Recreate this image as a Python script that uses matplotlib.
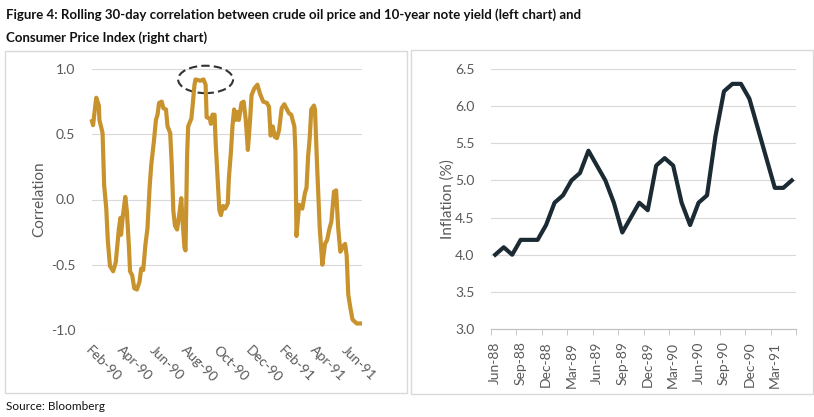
import matplotlib
matplotlib.use('Agg')
import matplotlib.pyplot as plt
import matplotlib.dates as mdates
from matplotlib.patches import Ellipse, Rectangle
import pandas as pd

# left chart: rolling 30-day correlation (days after 1 Feb 1990, value)
corr_days = [0, 2, 8, 13, 14, 20, 23, 27, 30, 34, 40, 45, 51, 54, 55, 58, 63, 66, 70, 72,
             76, 80, 85, 90, 93, 97, 101, 105, 109, 112, 117, 121, 124, 127, 132, 135, 140, 143, 148, 151,
             154, 157, 161, 165, 169, 171, 175, 177, 180, 182, 188, 190, 194, 196, 205, 211, 215, 217, 223, 225,
             228, 232, 234, 238, 241, 244, 248, 252, 257, 259, 263, 266, 269, 272, 275, 278, 283, 287, 291, 295,
             299, 302, 307, 313, 318, 324, 331, 335, 338, 342, 346, 350, 354, 359, 364, 369, 373, 377, 383, 385,
             387, 392, 398, 403, 406, 409, 412, 415, 420, 422, 426, 431, 436, 441, 445, 449, 453, 458, 462, 466,
             470, 475, 479, 482, 485, 489, 493, 501, 507]
corr_vals = [0.60, 0.57, 0.78, 0.72, 0.61, 0.51, 0.11, -0.07, -0.32, -0.51, -0.55, -0.48, -0.22, -0.14, -0.27, -0.14, 0.02, -0.09, -0.37, -0.55,
             -0.58, -0.68, -0.69, -0.63, -0.53, -0.54, -0.35, -0.22, 0.09, 0.26, 0.44, 0.61, 0.65, 0.74, 0.75, 0.70, 0.69, 0.56, 0.51, 0.26,
             -0.09, -0.20, -0.23, -0.12, 0.01, -0.14, -0.37, -0.39, 0.34, 0.56, 0.62, 0.70, 0.88, 0.92, 0.91, 0.92, 0.88, 0.63, 0.62, 0.58,
             0.65, 0.65, 0.44, 0.14, -0.08, -0.12, -0.05, -0.07, -0.03, 0.16, 0.37, 0.57, 0.69, 0.61, 0.67, 0.61, 0.74, 0.75, 0.61, 0.38,
             0.60, 0.80, 0.85, 0.88, 0.81, 0.75, 0.74, 0.71, 0.49, 0.56, 0.48, 0.47, 0.53, 0.70, 0.73, 0.69, 0.66, 0.65, 0.56, 0.37,
             -0.28, -0.04, -0.07, 0.05, 0.09, 0.33, 0.47, 0.69, 0.72, 0.69, 0.26, -0.22, -0.50, -0.34, -0.31, -0.23, -0.17, 0.06, 0.07, -0.22,
             -0.40, -0.36, -0.34, -0.43, -0.73, -0.83, -0.92, -0.95, -0.95]

# right chart: CPI inflation, monthly Jun-88 .. May-91
cpi_months = pd.date_range('1988-06-01', '1991-05-01', freq='MS')
cpi_vals = [4.0, 4.1, 4.0, 4.2, 4.2, 4.2, 4.4, 4.7, 4.8, 5.0, 5.1, 5.4,
            5.2, 5.0, 4.7, 4.3, 4.5, 4.7, 4.6, 5.2, 5.3, 5.2, 4.7, 4.4,
            4.7, 4.8, 5.6, 6.2, 6.3, 6.3, 6.1, 5.7, 5.3, 4.9, 4.9, 5.0]

start = pd.Timestamp('1990-02-01')
corr_dates = start + pd.to_timedelta(corr_days, unit='D')

W, H = 814, 417
fig = plt.figure(figsize=(W / 100, H / 100), dpi=100)
plt.rcParams['font.family'] = ['Lato', 'DejaVu Sans']

grid_c = '#d9d9d9'
text_c = '#595959'

# panel frames
for x0, y0, x1, y1 in [(5, 51, 407, 393), (411, 50, 813, 394)]:
    fig.patches.append(Rectangle((x0 / W, 1 - y1 / H), (x1 - x0) / W, (y1 - y0) / H,
                                 transform=fig.transFigure, fill=False, ec=grid_c, lw=1.0))

fig.text(6 / W, 1 - 15 / H, 'Figure 4: Rolling 30-day correlation between crude oil price and 10-year note yield (left chart) and',
         fontsize=9.5, fontweight='bold', color='#111111', va='center', ha='left')
fig.text(6 / W, 1 - 38 / H, 'Consumer Price Index (right chart)',
         fontsize=9.5, fontweight='bold', color='#111111', va='center', ha='left')
fig.text(6 / W, 1 - 406 / H, 'Source: Bloomberg', fontsize=8.5, color='#111111', va='center', ha='left')

# ---- left chart ----
ax1 = fig.add_axes([92 / W, 1 - 330 / H, 270 / W, 261 / H])
ax1.plot(corr_dates, corr_vals, color='#C8922C', lw=3.0, solid_joinstyle='round', clip_on=False)
ax1.set_ylim(-1.0, 1.0)
ax1.set_yticks([-1.0, -0.5, 0.0, 0.5, 1.0])
ax1.set_yticklabels(['-1.0', '-0.5', '0.0', '0.5', '1.0'])
ax1.set_xlim(start, start + pd.Timedelta(days=511))
xt = pd.date_range('1990-02-01', '1991-06-01', freq='2MS')
ax1.set_xticks(xt)
ax1.set_xticklabels([d.strftime('%b-%y') for d in xt], rotation=-45, ha='left', va='top',
                    rotation_mode='anchor')
ax1.grid(axis='y', color=grid_c, lw=0.8)
ax1.set_axisbelow(True)
for s in ax1.spines.values():
    s.set_visible(False)
ax1.tick_params(axis='both', length=0, colors=text_c, labelsize=10)
ax1.tick_params(axis='y', pad=12)
ax1.tick_params(axis='x', pad=10)
ax1.set_ylabel('Correlation', color=text_c, fontsize=11, labelpad=3)
ell_c = mdates.date2num(start + pd.Timedelta(days=215))
ax1.add_patch(Ellipse((ell_c, 0.92), width=104, height=0.21, fill=False, ec='#333333',
                      lw=1.5, ls=(0, (4, 2)), clip_on=False))

# ---- right chart ----
ax2 = fig.add_axes([491 / W, 1 - 329 / H, 305 / W, 260 / H])
xpos = list(range(len(cpi_vals)))
ax2.plot(xpos, cpi_vals, color='#1B2A33', lw=3.0, solid_joinstyle='round', clip_on=False)
ax2.set_ylim(3.0, 6.5)
ax2.set_yticks([3.0, 3.5, 4.0, 4.5, 5.0, 5.5, 6.0, 6.5])
ax2.set_yticklabels(['3.0', '3.5', '4.0', '4.5', '5.0', '5.5', '6.0', '6.5'])
ax2.set_xlim(-0.5, len(cpi_vals) - 0.5)
ax2.set_xticks(xpos[::3])
ax2.set_xticklabels([d.strftime('%b-%y') for d in cpi_months[::3]], rotation=90, ha='center', va='top')
ax2.set_xticks([i - 0.5 for i in range(0, len(cpi_vals) + 1, 3)], minor=True)
ax2.grid(axis='y', color=grid_c, lw=0.8)
ax2.set_axisbelow(True)
for k, s in ax2.spines.items():
    s.set_visible(k == 'bottom')
ax2.spines['bottom'].set_color('#bfbfbf')
ax2.tick_params(axis='both', which='major', length=0, colors=text_c, labelsize=10)
ax2.tick_params(axis='x', which='minor', length=4, color='#bfbfbf')
ax2.tick_params(axis='y', pad=12)
ax2.tick_params(axis='x', pad=9)
ax2.set_ylabel('Inflation (%)', color=text_c, fontsize=11, labelpad=0)

fig.savefig('out.png', dpi=100)
